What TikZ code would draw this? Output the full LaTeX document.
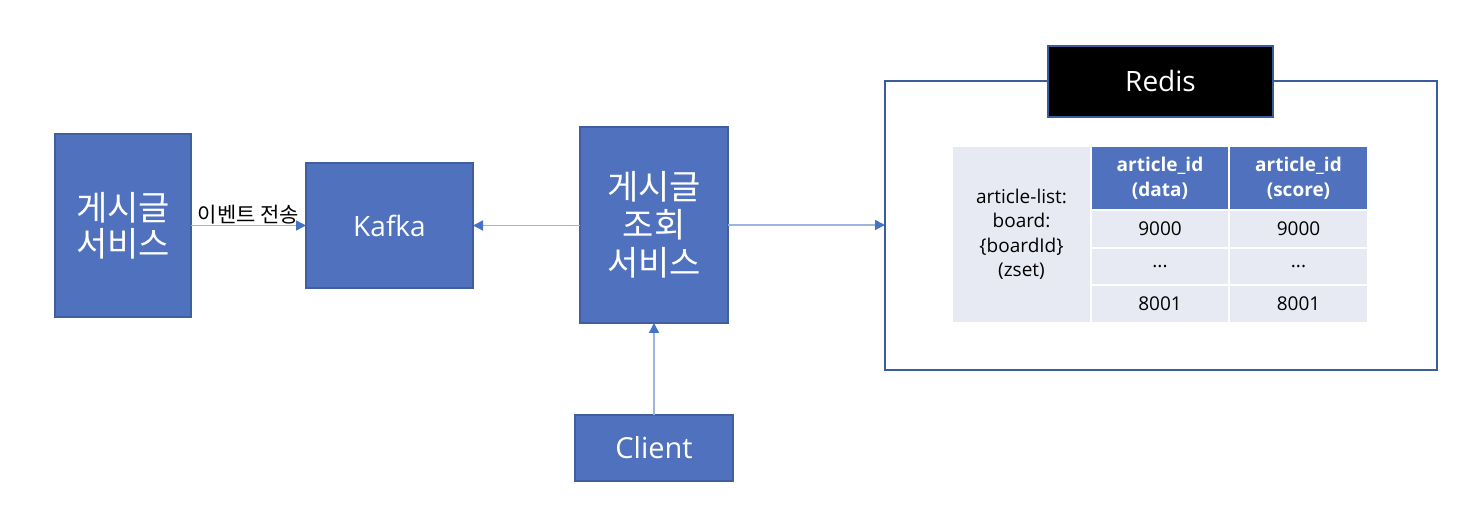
\documentclass[tikz,border=0pt]{standalone}
\usepackage{fontspec}
\setmainfont{Open Sans}
\newfontfamily\kr{Noto Sans CJK KR}
\usetikzlibrary{arrows.meta}
\definecolor{boxblue}{HTML}{4F71BE}
\definecolor{boxedge}{HTML}{3F5F9E}
\definecolor{linkblue}{HTML}{9DB4E0}
\definecolor{tipblue}{HTML}{4472C4}
\definecolor{cellgray}{HTML}{E8EAF3}
\definecolor{redisedge}{HTML}{3B5C9C}
\tikzset{
  svcbox/.style={draw=boxedge, line width=1.3pt, fill=boxblue, text=white, inner sep=0pt, outer sep=0pt, align=center},
  link/.style={draw=linkblue, line width=1.4pt, -{Triangle[length=10pt,width=10pt,color=tipblue]}},
  hcell/.style={fill=boxblue, text=white, inner sep=0pt, outer sep=0pt, align=center, font=\fontsize{19}{25}\selectfont\bfseries},
  gcell/.style={fill=cellgray, text=black, inner sep=0pt, outer sep=0pt, align=center, font=\fontsize{19}{24.5}\selectfont},
}
\begin{document}
\begin{tikzpicture}[x=1pt,y=-1pt]
\useasboundingbox (0,0) rectangle (1472,510);
% services
\node[svcbox, minimum width=136pt, minimum height=183pt, font=\kr\fontsize{34}{36}\selectfont] (svc) at (123,225.5) {게시글\\서비스};
\node[svcbox, minimum width=167pt, minimum height=125pt, font=\fontsize{28}{34}\selectfont] (kafka) at (389.5,225.5) {Kafka};
\node[svcbox, minimum width=148pt, minimum height=196pt, font=\kr\fontsize{34}{38}\selectfont] (query) at (654,225) {게시글\\조회\\서비스};
\node[svcbox, minimum width=158pt, minimum height=66pt, font=\fontsize{29}{34}\selectfont] (client) at (654,448) {Client};
% redis
\node[draw=redisedge, line width=1.4pt, minimum width=552pt, minimum height=289pt, inner sep=0pt, outer sep=0pt] (redis) at (1161,225.5) {};
\node[draw=redisedge, line width=1.4pt, fill=black, text=white, minimum width=225pt, minimum height=71pt, inner sep=0pt, outer sep=0pt, font=\fontsize{28}{34}\selectfont] (rhead) at (1160.5,81.5) {Redis};
% table
\node[gcell, minimum width=137pt, minimum height=175pt] (key) at (1021.5,234.5) {article-list:\\board:\\\{boardId\}\\(zset)};
\node[hcell, minimum width=136pt, minimum height=62pt] (h1) at (1160,178) {article\_id\\(data)};
\node[hcell, minimum width=137pt, minimum height=62pt] (h2) at (1298.5,178) {article\_id\\(score)};
\node[gcell, minimum width=136pt, minimum height=36pt] (a1) at (1160,229) {9000};
\node[gcell, minimum width=137pt, minimum height=36pt] (b1) at (1298.5,229) {9000};
\node[gcell, minimum width=136pt, minimum height=35pt] (a2) at (1160,266.5) {...};
\node[gcell, minimum width=137pt, minimum height=35pt] (b2) at (1298.5,266.5) {...};
\node[gcell, minimum width=136pt, minimum height=36pt] (a3) at (1160,304) {8001};
\node[gcell, minimum width=137pt, minimum height=36pt] (b3) at (1298.5,304) {8001};
% links
\coordinate (redisin) at (redis.west |- query.east);
\draw[link] (svc.east |- kafka.west) -- node[above=0pt, text=black, font=\kr\fontsize{21}{24}\selectfont, inner sep=1pt] {이벤트 전송} (kafka.west);
\draw[link] (query.west |- kafka.east) -- (kafka.east);
\draw[link] (query.east) -- (redisin);
\draw[link] (client.north) -- (query.south);
\end{tikzpicture}
\end{document}
